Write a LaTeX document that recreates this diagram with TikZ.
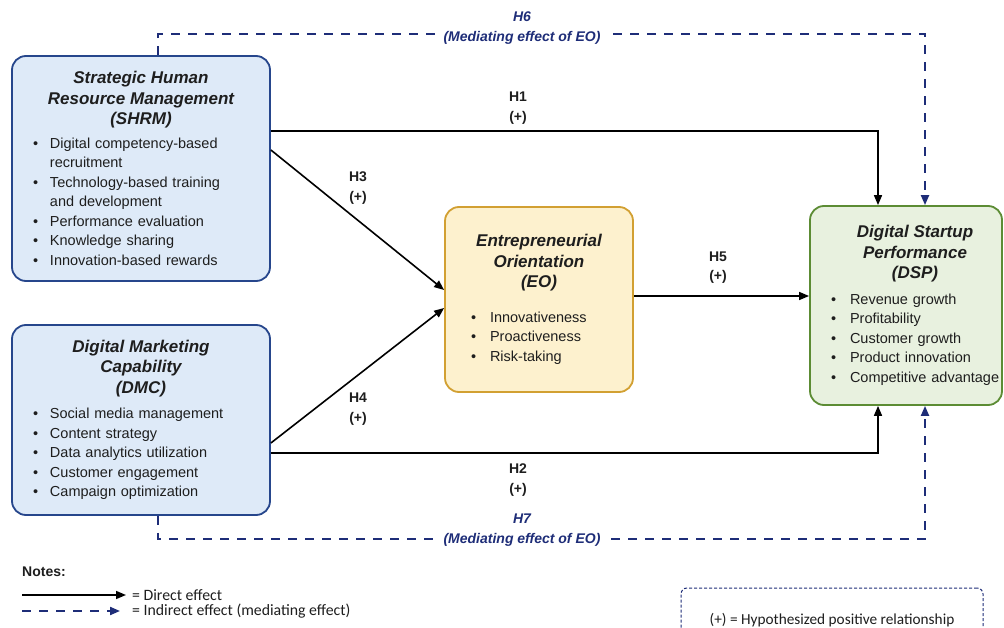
\documentclass[tikz,border=0pt]{standalone}
\usepackage{fontspec}
\setmainfont{Liberation Sans}
\newfontfamily\notefont{Carlito}
\usetikzlibrary{positioning,arrows.meta}
\definecolor{hrFill}{RGB}{222,234,248}
\definecolor{hrLine}{RGB}{38,70,140}
\definecolor{eoFill}{RGB}{253,241,206}
\definecolor{eoLine}{RGB}{210,160,50}
\definecolor{spFill}{RGB}{232,241,223}
\definecolor{spLine}{RGB}{92,140,52}
\definecolor{medLine}{RGB}{30,45,120}
\definecolor{txt}{RGB}{30,30,30}
\hyphenpenalty=10000
\newlength{\bulskip}
\newlength{\txtskip}
\newcommand{\bodyfont}{\fontsize{14.5}{19.5}\selectfont}
\newcommand{\bt}[2][0pt]{{\fontsize{17}{20.5}\selectfont\bfseries\itshape\centering\leftskip=#1 plus 1fil\relax #2\par}}
\newcommand{\itm}[1]{\par\hangindent=\txtskip\hangafter=1\noindent\makebox[\txtskip][l]{\hspace{\bulskip}\textbullet}#1}

\begin{document}
\begin{tikzpicture}[x=1pt,y=-1pt,>={Triangle[length=10pt,width=8pt]},
  hrbox/.style={draw=hrLine,fill=hrFill,line width=1.8pt,rounded corners=14pt,text=txt,align=left,inner xsep=10pt,inner ysep=0pt,text width=238pt,minimum width=258pt,font=\bodyfont,
    execute at begin node={\setlength{\bulskip}{11pt}\setlength{\txtskip}{28pt}}},
  eobox/.style={draw=eoLine,fill=eoFill,line width=1.8pt,rounded corners=14pt,text=txt,align=left,inner xsep=10pt,inner ysep=0pt,text width=168pt,minimum width=188pt,minimum height=185pt,font=\bodyfont,
    execute at begin node={\setlength{\bulskip}{16pt}\setlength{\txtskip}{35pt}}},
  spbox/.style={draw=spLine,fill=spFill,line width=1.8pt,rounded corners=14pt,text=txt,align=left,inner xsep=2pt,inner ysep=0pt,text width=188pt,minimum width=192pt,minimum height=199pt,font=\bodyfont,
    execute at begin node={\setlength{\bulskip}{19pt}\setlength{\txtskip}{38pt}}},
  hlab/.style={align=center,font=\fontsize{14}{19.5}\selectfont\bfseries,text=txt,inner sep=1pt},
  medlab/.style={align=center,font=\fontsize{14}{20}\selectfont\bfseries\itshape,text=medLine,fill=white,inner xsep=9pt,inner ysep=1pt},
  direct/.style={->,line width=1.6pt,black},
  mediate/.style={->,line width=2pt,medLine,dash pattern=on 9pt off 8pt},
  legtxt/.style={anchor=west,font=\notefont\fontsize{15.8}{18}\selectfont,text=txt,inner sep=0pt},
  notebox/.style={draw=medLine,line width=1pt,dash pattern=on 3pt off 2pt,rounded corners=6pt,minimum width=302pt,minimum height=64pt,font=\notefont\fontsize{15.3}{18}\selectfont,text=txt}]
\clip (0,0) rectangle (1004,628);
\fill[white] (0,0) rectangle (1004,628);

\node[hrbox,minimum height=225pt] (shrm) at (141,168.5) {\bt{Strategic Human\\ Resource Management\\ (SHRM)}\vspace{4pt}
  \itm{Digital competency-based\newline recruitment}
  \itm{Technology-based training\newline and development}
  \itm{Performance evaluation}
  \itm{Knowledge sharing}
  \itm{Innovation-based rewards}};
\node[hrbox,minimum height=190pt] (dmc) at (141,420) {\bt{Digital Marketing\\ Capability\\ (DMC)}\vspace{6pt}
  \itm{Social media management}
  \itm{Content strategy}
  \itm{Data analytics utilization}
  \itm{Customer engagement}
  \itm{Campaign optimization}};
\node[eobox] (eo) at (539,299.5) {\bt{Entrepreneurial\\ Orientation\\ (EO)}\vspace{15pt}
  \itm{Innovativeness}
  \itm{Proactiveness}
  \itm{Risk-taking}};
\node[spbox] (dsp) at (906,305.5) {\bt[18pt]{Digital Startup\\ Performance\\ (DSP)}\vspace{6pt}
  \itm{Revenue growth}
  \itm{Profitability}
  \itm{Customer growth}
  \itm{Product innovation}
  \itm{Competitive advantage}};

\draw[direct] ([yshift=37.5pt]shrm.east) -| ([xshift=-28pt]dsp.north);
\draw[direct] ([yshift=-33pt]dmc.east) -| ([xshift=-28pt]dsp.south);
\draw[direct] ([yshift=18.5pt]shrm.east) -- ([yshift=9.5pt]eo.west);
\draw[direct] ([yshift=-23pt]dmc.east) -- ([yshift=-8.5pt]eo.west);
\draw[direct] ([yshift=3.5pt]eo.east) -- ([yshift=9.5pt]dsp.west);
\draw[mediate] ([xshift=17pt]shrm.north) -- ++(0,-21) -| ([xshift=19pt]dsp.north);
\draw[mediate] ([xshift=17pt]dmc.south) -- ++(0,23) -| ([xshift=19pt]dsp.south);

\node[hlab] (h1) at (518,108) {H1\\(+)};
\node[hlab] (h2) at (518,480) {H2\\(+)};
\node[hlab] (h3) at (358,188) {H3\\(+)};
\node[hlab] (h4) at (358,409) {H4\\(+)};
\node[hlab] (h5) at (718,267.5) {H5\\(+)};
\node[medlab] (h6) at (522,28) {H6\\(Mediating effect of EO)};
\node[medlab] (h7) at (522,530) {H7\\(Mediating effect of EO)};

\node[anchor=west,font=\fontsize{14}{17}\selectfont\bfseries,text=txt,inner sep=0pt] (notes) at (22,572) {Notes:};
\node[legtxt] (dtxt) at (132,595) {= Direct effect};
\node[legtxt] (mtxt) at (132,611) {= Indirect effect (mediating effect)};
\coordinate (d0) at (22,595);
\coordinate (m0) at (22,611);
\draw[direct] (d0) -- ([xshift=-6pt]dtxt.west);
\draw[mediate] (m0) -- ([xshift=-12pt]mtxt.west);
\node[notebox] (note) at (832,620) {(+) = Hypothesized positive relationship};
\end{tikzpicture}
\end{document}
